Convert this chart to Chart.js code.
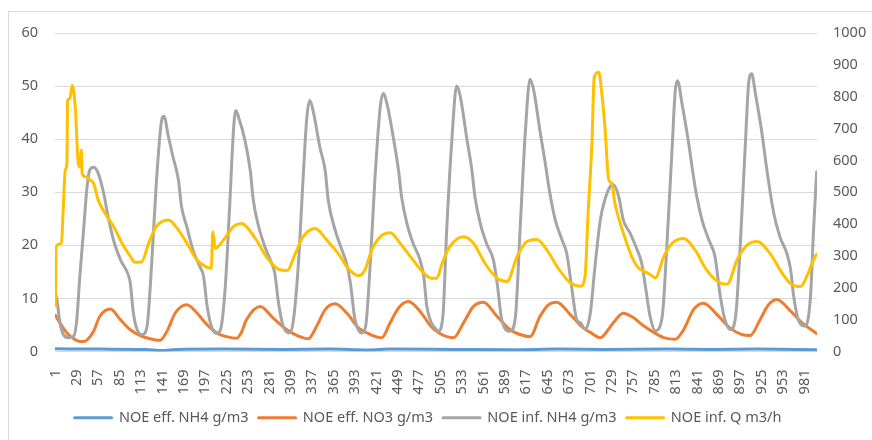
<!DOCTYPE html>
<html>
<head>
<meta charset="utf-8">
<script src="https://cdn.jsdelivr.net/npm/chart.js@4/dist/chart.umd.min.js"></script>
<style>
  html, body { margin: 0; padding: 0; background: #fff; }
  #wrap { width: 872px; height: 440px; }
</style>
</head>
<body>
<div id="wrap"><canvas id="chart" width="872" height="440"></canvas></div>
<script>
// tick labels on the category axis (every 28th sample)
const xTickLabels = [1, 29, 57, 85, 113, 141, 169, 197, 225, 253, 281, 309, 337, 365, 393, 421, 449, 477,
    505, 533, 561, 589, 617, 645, 673, 701, 729, 757, 785, 813, 841, 869, 897, 925, 953, 981];
const sampleCount = 997;

const seriesNames = ['NOE eff. NH4 g/m3', 'NOE eff. NO3 g/m3', 'NOE inf. NH4 g/m3', 'NOE inf. Q m3/h'];

// [sample, value]
const effNH4 = [[1, 0.5], [60, 0.45], [120, 0.4], [140, 0.2], [160, 0.4], [220, 0.45], [300, 0.4], [360, 0.45],
    [410, 0.3], [440, 0.45], [520, 0.4], [600, 0.35], [660, 0.45], [720, 0.4], [800, 0.45], [860, 0.4],
    [920, 0.45], [997, 0.35]];

const effNO3 = [[1, 6.8], [7, 5.4], [16, 3.5], [25, 2.4], [33, 1.9], [38, 1.9], [42, 2.1], [51, 3.8], [59, 6.6],
    [73, 8], [86, 6], [99, 4.1], [112, 3], [125, 2.4], [138, 2.1], [147, 3.8], [158, 7.3], [173, 8.8], [186, 7.3],
    [199, 5.1], [212, 3.5], [225, 2.8], [238, 2.5], [244, 3.5], [251, 6], [269, 8.5], [286, 6.3], [304, 4.1],
    [319, 2.9], [332, 2.4], [343, 4.8], [354, 7.9], [367, 9], [382, 7.3], [398, 4.4], [413, 3.2], [428, 2.6],
    [439, 5.4], [450, 8.2], [463, 9.4], [478, 7.6], [492, 4.8], [504, 3.4], [522, 2.6], [535, 5.4], [548, 8.5],
    [561, 9.3], [579, 6.6], [596, 4.1], [609, 3.2], [622, 2.8], [635, 6.6], [646, 8.8], [657, 9.3], [675, 6.9],
    [692, 4.4], [701, 3.6], [714, 2.6], [720, 3.3], [731, 5.4], [744, 7.2], [757, 6.4], [771, 4.8], [784, 3.6],
    [797, 2.6], [812, 2.3], [823, 4.1], [836, 7.9], [849, 9.1], [867, 6.9], [884, 4.4], [899, 3.2], [910, 3],
    [923, 6], [934, 8.8], [945, 9.8], [963, 7.6], [978, 5.4], [997, 3.4]];

const infNH4 = [[1, 11], [3, 9.8], [7, 5.4], [11, 3.3], [18, 2.6], [25, 2.9], [29, 6], [33, 14.2], [38, 23],
    [42, 30.4], [46, 34.2], [51, 34.7], [57, 33.6], [64, 29.9], [70, 25.4], [77, 21], [86, 17.3], [97, 14.2],
    [99, 12.9], [103, 7.3], [108, 4.1], [115, 3.2], [121, 4.8], [127, 16.6], [133, 31.6], [140, 43.5], [143, 44.3],
    [149, 40.4], [155, 36.6], [162, 32.3], [166, 27.3], [173, 23.5], [181, 19.1], [190, 16], [195, 14.1], [199, 9.1],
    [205, 4.8], [212, 3.4], [217, 4.1], [223, 11.6], [229, 27.3], [234, 41.6], [237, 45.4], [241, 44], [249, 39.8],
    [256, 34.1], [260, 28.5], [267, 23.5], [275, 19.8], [284, 16.6], [288, 14.8], [293, 9.1], [299, 4.8], [307, 3.5],
    [312, 5.4], [319, 16.6], [325, 32.3], [330, 44.1], [334, 47.3], [339, 44.8], [347, 38.5], [354, 34.1],
    [358, 28.5], [367, 22.9], [376, 19.1], [382, 16.6], [387, 12.9], [393, 6], [402, 3.5], [407, 4.8], [413, 16.6],
    [419, 32.3], [426, 46], [430, 48.6], [435, 46.6], [443, 40.4], [450, 34.1], [454, 29.1], [461, 24.1],
    [469, 20.4], [478, 17.3], [483, 14.1], [487, 8.5], [493, 5.4], [498, 4.4], [502, 3.8], [508, 6.6], [513, 22.9],
    [520, 40.4], [526, 50], [531, 47.9], [539, 40.4], [546, 34.1], [550, 29.1], [557, 24.1], [565, 20.4],
    [574, 17.3], [579, 12.9], [585, 6], [596, 3.8], [603, 6.6], [609, 22.9], [616, 41.6], [622, 51.3], [627, 49.1],
    [635, 41.6], [642, 35.4], [648, 29.8], [655, 24.8], [664, 21], [670, 18.5], [677, 11.6], [683, 6], [688, 5.4],
    [694, 4.2], [701, 7.3], [707, 16], [714, 24.8], [720, 28.6], [727, 31.1], [731, 31.4], [738, 29.2], [744, 24.8],
    [753, 22.3], [762, 19.2], [768, 16.7], [773, 12.3], [779, 6.7], [786, 3.9], [795, 6.6], [801, 19.8],
    [808, 38.5], [812, 49.1], [815, 51], [821, 46.6], [829, 39.8], [838, 31], [847, 24.8], [856, 21], [864, 17.9],
    [871, 10.4], [877, 6], [884, 4.1], [891, 6.6], [897, 19.8], [904, 39.8], [908, 50.4], [912, 52.3], [917, 48.5],
    [925, 41.6], [932, 34.1], [941, 26], [949, 21.6], [958, 18.5], [963, 15.4], [967, 10.4], [973, 6], [982, 4.8],
    [989, 10.4], [993, 22.9], [997, 33.8]];

const infQ = [[1, 143], [2, 329], [9, 340], [11, 433], [14, 570], [16, 586], [17, 789], [20, 794], [23, 835],
    [27, 768], [31, 590], [33, 580], [35, 632], [36, 559], [40, 549], [46, 539], [51, 528], [57, 476], [66, 434],
    [77, 393], [88, 341], [99, 299], [105, 280], [114, 282], [123, 340], [133, 392], [149, 413], [162, 381],
    [173, 340], [186, 288], [199, 265], [205, 261], [207, 376], [210, 324], [221, 350], [234, 392], [245, 402],
    [251, 392], [264, 350], [277, 298], [293, 258], [304, 254], [315, 308], [325, 360], [341, 386], [356, 350],
    [371, 308], [384, 261], [397, 238], [406, 256], [415, 319], [426, 360], [439, 373], [452, 340], [467, 293],
    [483, 246], [493, 230], [500, 230], [507, 277], [517, 329], [535, 360], [548, 340], [563, 277], [579, 230],
    [592, 220], [605, 298], [618, 345], [631, 352], [644, 319], [659, 261], [675, 215], [688, 205], [694, 236],
    [698, 434], [703, 653], [706, 861], [712, 877], [716, 809], [720, 705], [725, 539], [729, 528], [733, 466],
    [740, 403], [747, 351], [755, 299], [764, 262], [771, 252], [779, 242], [786, 231], [797, 298], [808, 340],
    [823, 355], [838, 319], [853, 256], [871, 215], [880, 212], [893, 288], [906, 334], [919, 345], [936, 308],
    [952, 246], [965, 209], [976, 204], [984, 235], [991, 277], [997, 306]];

const seriesColors = ['#5B9BD5', '#ED7D31', '#A5A5A5', '#FFC000'];
const textColor = '#595959';
const gridColor = '#D9D9D9';
const fontFamily = "'Noto Sans', sans-serif";

const toPoints = pairs => pairs.map(p => ({x: p[0], y: p[1]}));

const makeSet = function(i, pairs, axis) {
    return {
        label: seriesNames[i],
        data: toPoints(pairs),
        yAxisID: axis,
        borderColor: seriesColors[i],
        backgroundColor: seriesColors[i],
        borderWidth: 3,
        borderJoinStyle: 'round',
        borderCapStyle: 'round',
        cubicInterpolationMode: 'monotone',
        pointRadius: 0,
        pointHoverRadius: 0,
        order: 3 - i   // later series painted on top, like the original
    };
};

// light frame around the chart area (cropped at right/bottom in the original)
const framePlugin = {
    id: 'frame',
    beforeDraw(chart) {
        const ctx = chart.ctx;
        ctx.save();
        ctx.fillStyle = '#fff';
        ctx.fillRect(0, 0, chart.width, chart.height);
        ctx.strokeStyle = gridColor;
        ctx.lineWidth = 1;
        ctx.beginPath();
        ctx.moveTo(8.5, chart.height);
        ctx.lineTo(8.5, 11.5);
        ctx.lineTo(chart.width, 11.5);
        ctx.stroke();
        ctx.restore();
        // nudge the legend row a little to the left, as in the original
        if (chart.legend && !chart.legend._nudged) {
            chart.legend.left -= 8;
            chart.legend.right -= 8;
            chart.legend._nudged = true;
        }
    }
};

const config = {
    type: 'line',
    data: {
        datasets: [
            makeSet(0, effNH4, 'yL'),
            makeSet(1, effNO3, 'yL'),
            makeSet(2, infNH4, 'yL'),
            makeSet(3, infQ, 'yR')
        ]
    },
    options: {
        responsive: false,
        devicePixelRatio: 1,
        animation: false,
        events: [],
        layout: { padding: { top: 33, bottom: 5, left: 0, right: 0 } },
        plugins: {
            tooltip: { enabled: false },
            legend: {
                position: 'bottom',
                labels: {
                    boxWidth: 37,
                    boxHeight: 0,
                    padding: 10,
                    color: textColor,
                    font: { family: fontFamily, size: 14.5 },
                    sort: (a, b) => a.datasetIndex - b.datasetIndex
                }
            }
        },
        scales: {
            x: {
                type: 'linear',
                min: 0.5,
                max: sampleCount + 0.5,
                afterBuildTicks: scale => {
                    scale.ticks = xTickLabels.map(v => ({value: v}));
                },
                afterFit: scale => { scale.height = 49; },
                grid: { display: false },
                border: { display: false },
                ticks: {
                    autoSkip: false,
                    minRotation: 90,
                    maxRotation: 90,
                    padding: 10,
                    color: textColor,
                    font: { family: fontFamily, size: 14.5 },
                    callback: v => String(v)
                }
            },
            yL: {
                position: 'left',
                min: 0,
                max: 60,
                afterFit: scale => { scale.width = 55; },
                grid: { color: gridColor, lineWidth: 1, drawTicks: false },
                border: { display: false },
                ticks: {
                    stepSize: 10,
                    padding: 17,
                    color: textColor,
                    font: { family: fontFamily, size: 14.5 },
                    callback: v => String(v)
                }
            },
            yR: {
                position: 'right',
                min: 0,
                max: 1000,
                afterFit: scale => { scale.width = 55; },
                grid: { display: false, drawTicks: false },
                border: { display: false },
                ticks: {
                    stepSize: 100,
                    padding: 16,
                    color: textColor,
                    font: { family: fontFamily, size: 14.5 },
                    callback: v => String(v)
                }
            }
        }
    },
    plugins: [framePlugin]
};

new Chart(document.getElementById('chart'), config);
</script>
</body>
</html>
